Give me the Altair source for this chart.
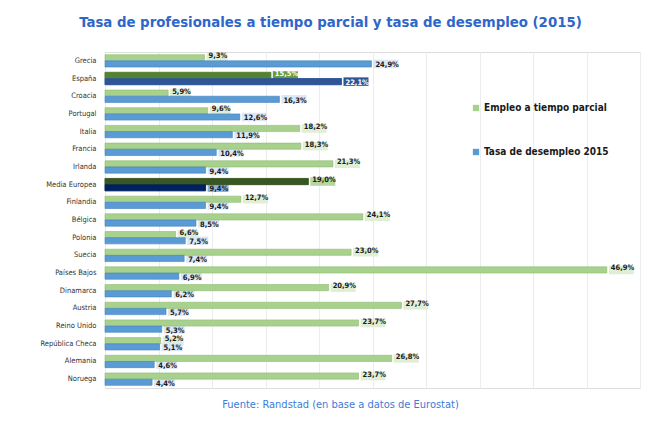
import altair as alt
import pandas as pd

paises = ["Grecia", "España", "Croacia", "Portugal", "Italia", "Francia", "Irlanda",
          "Media Europea", "Finlandia", "Bélgica", "Polonia", "Suecia", "Países Bajos",
          "Dinamarca", "Austria", "Reino Unido", "República Checa", "Alemania", "Noruega"]
parcial = [9.3, 15.5, 5.9, 9.6, 18.2, 18.3, 21.3, 19.0, 12.7, 24.1, 6.6, 23.0, 46.9,
           20.9, 27.7, 23.7, 5.2, 26.8, 23.7]
desempleo = [24.9, 22.1, 16.3, 12.6, 11.9, 10.4, 9.4, 9.4, 9.4, 8.5, 7.5, 7.4, 6.9,
             6.2, 5.7, 5.3, 5.1, 4.6, 4.4]
series = ["Empleo a tiempo parcial", "Tasa de desempleo 2015"]

# styles (kept apart from the data)
bar_fill = {series[0]: "#a9d18e", series[1]: "#5b9bd5"}
bar_stroke = {series[0]: "#8fba70", series[1]: "#3f7fbf"}
box_fill = {series[0]: "#e0eed6", series[1]: "#d9e7f7"}
special_bar = {("España", series[0]): "#548235", ("España", series[1]): "#2f5597",
               ("Media Europea", series[0]): "#375623", ("Media Europea", series[1]): "#002060"}
special_box = {("España", series[0]): "#6a9a3e", ("España", series[1]): "#2f5597",
               ("Media Europea", series[0]): "#b5d69c", ("Media Europea", series[1]): "#8eb4e3"}
special_text = {("España", series[0]): "#ffffff", ("España", series[1]): "#ffffff"}
label_shift = {series[0]: -1.5, series[1]: 1.5}

rows = []
for p, a, b in zip(paises, parcial, desempleo):
    for s, v in zip(series, [a, b]):
        key = (p, s)
        rows.append({
            "pais": p, "serie": s, "valor": v,
            "label": f"{v:.1f}".replace(".", ",") + "%",
            "especial": key in special_bar,
            "barfill": special_bar.get(key, bar_fill[s]),
            "barstroke": special_bar.get(key, bar_stroke[s]),
            "boxfill": special_box.get(key, box_fill[s]),
            "textcolor": special_text.get(key, "#1a1a1a"),
        })
df = pd.DataFrame(rows)

FONT = "DejaVu Sans Condensed"

y_enc = alt.Y("pais:N", sort=paises,
              scale=alt.Scale(paddingInner=0.3, paddingOuter=0.15),
              axis=alt.Axis(title=None, ticks=False, domain=False, labelFont=FONT,
                            labelFontSize=7.5, labelColor="#333333", labelPadding=9))
yoff = alt.YOffset("serie:N", sort=series, scale=alt.Scale(paddingInner=0))
x_enc = alt.X("valor:Q", scale=alt.Scale(domain=[0, 50], nice=False),
              axis=alt.Axis(values=list(range(0, 51, 5)), labels=False, ticks=False,
                            domain=False, grid=True, gridColor="#ececec",
                            title="Fuente: Randstad (en base a datos de Eurostat)",
                            titleFont=FONT, titleFontSize=11, titleFontWeight="normal",
                            titleColor="#3d7bd9", titleX=235, titleY=10))

base = alt.Chart(df)

layers = []
# label background boxes
for s in series:
    for cond, w in [("datum.valor < 10", 23), ("datum.valor >= 10", 27)]:
        layers.append(
            base.transform_filter(f"datum.serie == '{s}' && {cond}").mark_bar(
                size=8.5, xOffset=2, x2Offset=w, yOffset=label_shift[s],
                y2Offset=label_shift[s]).encode(
                x=x_enc, x2="valor:Q", y=y_enc, yOffset=yoff,
                fill=alt.Fill("boxfill:N", scale=None)))

bars = base.mark_bar(strokeWidth=0.6).encode(
    x=x_enc, y=y_enc, yOffset=yoff,
    color=alt.Color("serie:N", sort=series,
                    scale=alt.Scale(domain=series, range=[bar_fill[series[0]], bar_fill[series[1]]]),
                    legend=alt.Legend(title=None, orient="none", legendX=366, legendY=51,
                                      symbolType="square", symbolSize=40, symbolStrokeWidth=0,
                                      labelFont=FONT, labelFontSize=10, labelFontWeight="bold",
                                      labelColor="#1a1a1a", rowPadding=34, labelOffset=3)),
    stroke=alt.Stroke("barstroke:N", scale=None))
layers.append(bars)

special = base.transform_filter("datum.especial").mark_bar(strokeWidth=0.6).encode(
    x=x_enc, y=y_enc, yOffset=yoff,
    fill=alt.Fill("barfill:N", scale=None),
    stroke=alt.Stroke("barstroke:N", scale=None))
layers.append(special)

for s in series:
    layers.append(
        base.transform_filter(f"datum.serie == '{s}'").mark_text(
            align="left", baseline="middle", dx=4, dy=label_shift[s], font=FONT,
            fontSize=7.5, fontWeight="bold").encode(
            x=x_enc, y=y_enc, yOffset=yoff, text="label:N",
            color=alt.Color("textcolor:N", scale=None)))

chart = alt.layer(*layers).properties(
    width=535, height=336,
    title=alt.Title("Tasa de profesionales a tiempo parcial y tasa de desempleo (2015)",
                    font=FONT, fontSize=14.8, fontWeight="bold", color="#2f66c9",
                    anchor="middle", offset=22, dx=-42),
    autosize=alt.AutoSizeParams(type="none"),
    padding={"left": 105, "top": 52, "right": 20, "bottom": 51},
).configure_view(stroke=None).configure(background="#ffffff")

chart.save("out.html", embed_options={"renderer": "svg", "actions": False})
